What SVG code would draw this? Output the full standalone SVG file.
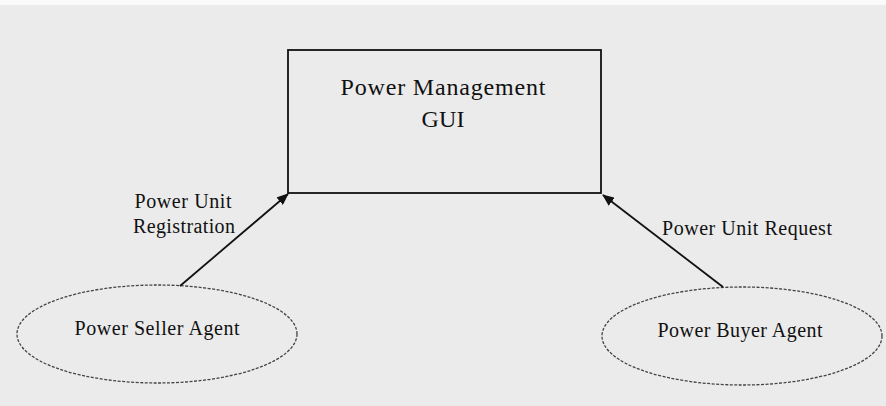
<svg xmlns="http://www.w3.org/2000/svg" width="886" height="406" viewBox="0 0 886 406">
<style>
text{font-family:"Liberation Serif","Times New Roman",serif;fill:#111;text-anchor:middle}
.n{font-size:24px}
.s{font-size:20px}
.e{fill:none;stroke:#444;stroke-width:1.3;stroke-dasharray:3 1.5}
.c{stroke:#111;stroke-width:1.8;fill:none;marker-end:url(#ah)}
</style>
<defs>
<marker id="ah" markerWidth="12" markerHeight="10" refX="11" refY="5" orient="auto" markerUnits="userSpaceOnUse">
<path d="M0,0 L12,5 L0,10 z" fill="#111"/>
</marker>
</defs>
<rect width="886" height="406" fill="#ebebeb"/>
<rect width="886" height="5" fill="#fafafa"/>
<g id="gui">
<rect x="288" y="50" width="313" height="143" fill="none" stroke="#111" stroke-width="1.8"/>
<text class="n" x="443" y="95" textLength="205">Power Management</text>
<text class="n" x="443" y="127" textLength="43">GUI</text>
</g>
<g id="seller">
<ellipse class="e" cx="157" cy="334" rx="140" ry="49"/>
<text class="s" x="157" y="335" textLength="165">Power Seller Agent</text>
</g>
<g id="buyer">
<ellipse class="e" cx="742" cy="336" rx="140" ry="49"/>
<text class="s" x="740" y="337" textLength="165">Power Buyer Agent</text>
</g>
<g id="connectors">
<line class="c" x1="180" y1="286" x2="288" y2="194"/>
<line class="c" x1="723" y1="287" x2="603" y2="195"/>
<text class="s" x="183" y="208" textLength="97">Power Unit</text>
<text class="s" x="184" y="233" textLength="102">Registration</text>
<text class="s" x="747" y="235" textLength="170">Power Unit Request</text>
</g>
</svg>
